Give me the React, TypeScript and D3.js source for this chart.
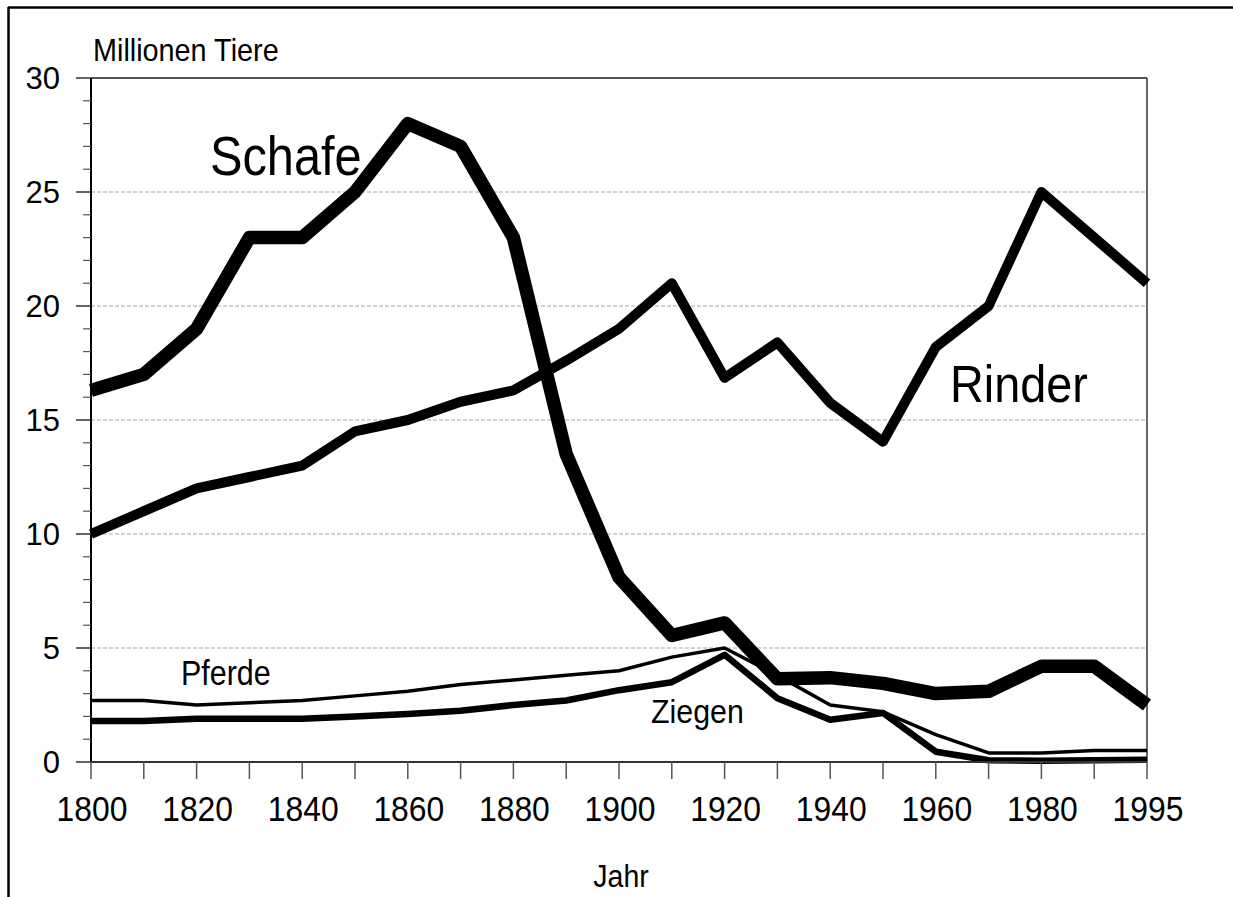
import React from 'react';
import * as d3 from 'd3';

// Tierbestand (Millionen Tiere)
const years = ['1800', '1810', '1820', '1830', '1840', '1850', '1860', '1870', '1880', '1890', '1900',
  '1910', '1920', '1930', '1940', '1950', '1960', '1970', '1980', '1990', '1995'];
const schafe = [16.3, 17.0, 19.0, 23.0, 23.0, 25.0, 28.0, 27.0, 23.0, 13.5, 8.1, 5.55, 6.1, 3.65, 3.7, 3.45, 3.0, 3.1, 4.2, 4.2, 2.5];
const rinder = [10.0, 11.0, 12.0, 12.5, 13.0, 14.5, 15.0, 15.8, 16.3, 17.6, 19.0, 21.0, 16.85, 18.4, 15.75, 14.05, 18.2, 20.0, 25.0, 23.0, 21.0];
const pferde = [2.7, 2.7, 2.5, 2.6, 2.7, 2.9, 3.1, 3.4, 3.6, 3.8, 4.0, 4.6, 5.0, 3.8, 2.5, 2.2, 1.2, 0.4, 0.4, 0.5, 0.5];
const ziegen = [1.8, 1.8, 1.9, 1.9, 1.9, 2.0, 2.1, 2.25, 2.5, 2.7, 3.15, 3.5, 4.7, 2.8, 1.85, 2.15, 0.45, 0.08, 0.05, 0.08, 0.1];
const yTicks = [0, 5, 10, 15, 20, 25, 30];
const xLabelYears = ['1800', '1820', '1840', '1860', '1880', '1900', '1920', '1940', '1960', '1980', '1995'];

const W = 1233;
const H = 897;
const left = 91, right = 1147, top = 78, bottom = 762;
const font = '"Liberation Sans", Arial, sans-serif';

function Label({ x, y, size, anchor = 'start', sx = 0.9, children }: any) {
  return (
    <text transform={`translate(${x},${y}) scale(${sx},1)`} fontSize={size} textAnchor={anchor}
      fontFamily={font} fill="#000">{children}</text>
  );
}

export default function App() {
  const x = d3.scalePoint<string>().domain(years).range([left, right]);
  const y = d3.scaleLinear().domain([0, 30]).range([bottom, top]);
  const line = d3.line<number>().x((_, i) => x(years[i])!).y(d => y(d));
  const minor = d3.range(0, 31).filter(v => v % 5 !== 0);

  const series = [
    { data: pferde, width: 3.5 },
    { data: ziegen, width: 6.5 },
    { data: rinder, width: 10 },
    { data: schafe, width: 13.5 },
  ];

  return (
    <>
      <style>{'html,body{margin:0;padding:0;overflow:hidden;background:#fff}'}</style>
      <svg width={W} height={H} style={{ display: 'block', background: '#fff' }}>
        {/* outer frame */}
        <line x1={8} x2={W} y1={7.5} y2={7.5} stroke="#000" strokeWidth={2.5} />
        <line x1={8.5} x2={8.5} y1={7} y2={H} stroke="#000" strokeWidth={2.5} />

        {/* gridlines */}
        {yTicks.filter(v => v > 0 && v < 30).map(v => (
          <line key={v} x1={left} x2={right} y1={y(v)} y2={y(v)} stroke="#a8a8a8" strokeWidth={1.2} strokeDasharray="4,2" />
        ))}

        {/* plot frame top / right */}
        <line x1={left} x2={right} y1={top} y2={top} stroke="#555" strokeWidth={1.8} />
        <line x1={right} x2={right} y1={top} y2={bottom} stroke="#333" strokeWidth={1.5} />

        {/* series */}
        {series.map((s, i) => (
          <path key={i} d={line(s.data)!} fill="none" stroke="#000" strokeWidth={s.width}
            strokeLinejoin="round" strokeLinecap="butt" />
        ))}

        {/* y axis */}
        <line x1={left} x2={left} y1={top} y2={bottom} stroke="#000" strokeWidth={2} />
        {yTicks.map(v => (
          <g key={v}>
            <line x1={76} x2={left} y1={y(v)} y2={y(v)} stroke="#333" strokeWidth={1.5} />
            <Label x={60} y={y(v) + 10.5} size={31} anchor="end" sx={1}>{v}</Label>
          </g>
        ))}
        {minor.map(v => (
          <line key={v} x1={83} x2={left} y1={y(v)} y2={y(v)} stroke="#555" strokeWidth={1.2} />
        ))}

        {/* x axis */}
        <line x1={left} x2={right} y1={bottom} y2={bottom} stroke="#333" strokeWidth={2} />
        {years.map(yr => (
          <line key={yr} x1={x(yr)} x2={x(yr)} y1={bottom} y2={779} stroke="#555" strokeWidth={1.5} />
        ))}
        {xLabelYears.map(yr => (
          <Label key={yr} x={x(yr)! + 1} y={821} size={35} anchor="middle" sx={0.91}>{yr}</Label>
        ))}

        {/* titles and series labels */}
        <Label x={93} y={61} size={32} sx={0.9}>Millionen Tiere</Label>
        <Label x={621} y={887} size={31} anchor="middle" sx={0.92}>Jahr</Label>
        <Label x={210} y={175} size={56} sx={0.87}>Schafe</Label>
        <Label x={950} y={402} size={52} sx={0.9}>Rinder</Label>
        <Label x={181} y={685} size={35} sx={0.87}>Pferde</Label>
        <Label x={651} y={723} size={33} sx={0.92}>Ziegen</Label>
      </svg>
    </>
  );
}
